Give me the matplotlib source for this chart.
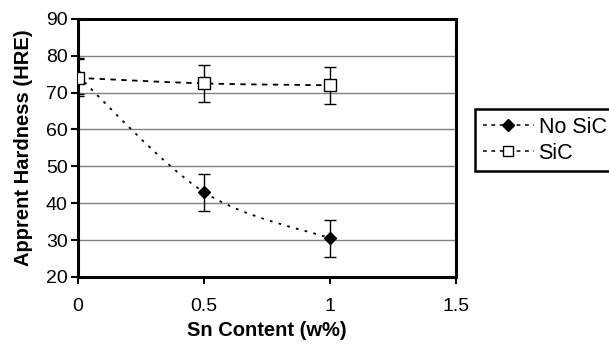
import numpy as np
import matplotlib
matplotlib.use('Agg')
import matplotlib.pyplot as plt
from matplotlib.path import Path
from matplotlib.patches import PathPatch
from matplotlib.lines import Line2D

plt.rcParams['font.family'] = ['Liberation Sans', 'DejaVu Sans']

# Data
sn_content = [0, 0.5, 1]
no_sic = [74.5, 43, 30.5]
no_sic_err = [5, 5, 5]
sic = [74, 72.5, 72]
sic_err = [5, 5, 5]


def smooth_path(x, y):
    # Excel-style smoothed line: cubic Bezier through points (Catmull-Rom tangents)
    pts = np.column_stack([x, y]).astype(float)
    verts = [pts[0]]
    codes = [Path.MOVETO]
    n = len(pts)
    for i in range(n - 1):
        p0 = pts[i - 1] if i > 0 else pts[i]
        p1 = pts[i]
        p2 = pts[i + 1]
        p3 = pts[i + 2] if i + 2 < n else pts[i + 1]
        c1 = p1 + (p2 - p0) / 6.0
        c2 = p2 - (p3 - p1) / 6.0
        verts += [c1, c2, p2]
        codes += [Path.CURVE4] * 3
    return Path(verts, codes)


fig = plt.figure(figsize=(6.09, 3.44), dpi=100)
ax = fig.add_axes([0.128, 0.195, 0.621, 0.750])

ax.set_xlim(0, 1.5)
ax.set_ylim(20, 90)
ax.set_xticks([0, 0.5, 1, 1.5])
ax.set_xticklabels(['0', '0.5', '1', '1.5'])
ax.set_yticks(range(20, 91, 10))

ax.yaxis.grid(True, color='#808080', linewidth=1.0)
ax.set_axisbelow(True)

for s in ax.spines.values():
    s.set_linewidth(2.2)
    s.set_color('black')
ax.tick_params(axis='both', direction='out', length=5, width=1.5,
               labelsize=14, pad=2.5)
ax.tick_params(axis='x', pad=10)

# smoothed dashed connectors
ax.add_patch(PathPatch(smooth_path(sn_content, no_sic), fill=False,
                       linestyle=(0, (1.5, 3.5)), linewidth=1.3,
                       edgecolor='black'))
ax.add_patch(PathPatch(smooth_path(sn_content, sic), fill=False,
                       linestyle=(0, (3, 3)), linewidth=1.3,
                       edgecolor='black'))

ax.errorbar(sn_content, no_sic, yerr=no_sic_err, fmt='D', color='black',
            markersize=6.5, ecolor='black', elinewidth=1, capsize=4,
            capthick=1, zorder=4)
ax.errorbar(sn_content, sic, yerr=sic_err, fmt='s', color='black',
            markerfacecolor='white', markeredgecolor='black', markersize=8,
            markeredgewidth=1, ecolor='black', elinewidth=1, capsize=4,
            capthick=1, zorder=5)

ax.set_xlabel('Sn Content (w%)', fontsize=14.5, fontweight='bold')
ax.xaxis.set_label_coords(0.5, -0.172)
ax.set_ylabel('Apprent Hardness (HRE)', fontsize=14.5, fontweight='bold')
ax.yaxis.set_label_coords(-0.12, 0.5)

handles = [
    Line2D([], [], color='black', linestyle=(0, (2.5, 3)), linewidth=1.1,
           marker='D', markersize=6.5),
    Line2D([], [], color='black', linestyle=(0, (2.5, 3)), linewidth=1.1,
           marker='s', markersize=7, markerfacecolor='white'),
]
leg = fig.legend(handles, ['No SiC', 'SiC'], loc='upper left',
                 bbox_to_anchor=(0.780, 0.5, 0.25, 0.183), mode='expand',
                 fontsize=15.5, frameon=True,
                 fancybox=False, edgecolor='black', framealpha=1,
                 borderpad=0.35, handlelength=2.4, handletextpad=0.2,
                 labelspacing=0.25, borderaxespad=0)
leg.get_frame().set_linewidth(1.8)

fig.savefig('out.png', dpi=100)
